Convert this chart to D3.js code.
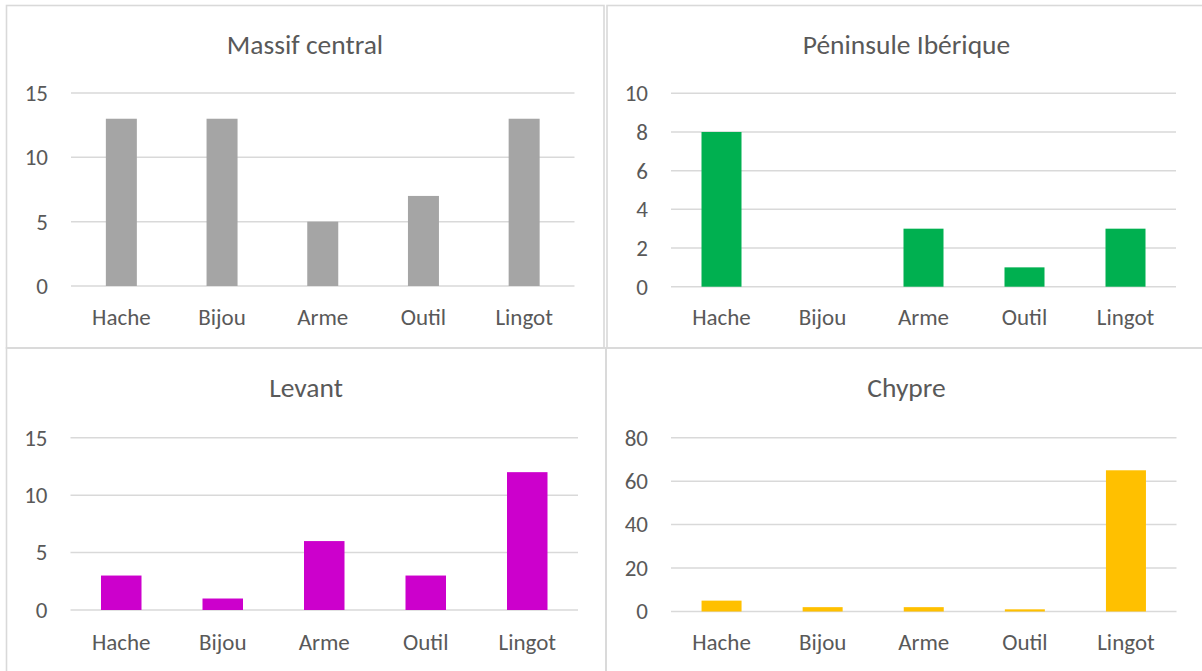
<!DOCTYPE html>
<html>
<head>
<meta charset="utf-8">
<script src="https://cdn.jsdelivr.net/npm/d3@7"></script>
<style>
  html, body { margin: 0; padding: 0; background: #ffffff; }
  svg { display: block; }
  text { font-family: Carlito, Calibri, Lato, "Noto Sans", sans-serif; fill: #595959; }
</style>
</head>
<body>
<svg id="chart" width="1202" height="671"></svg>
<script>
// ---- data ----
const categories = ["Hache", "Bijou", "Arme", "Outil", "Lingot"];
const titles = ["Massif central", "Péninsule Ibérique", "Levant", "Chypre"];
const massifCentral = [13, 13, 5, 7, 13];
const peninsuleIberique = [8, 0, 3, 1, 3];
const levant = [3, 1, 6, 3, 12];
const chypre = [5, 2, 2, 1, 65];
const ticksMassif = [0, 5, 10, 15];
const ticksPeninsule = [0, 2, 4, 6, 8, 10];
const ticksLevant = [0, 5, 10, 15];
const ticksChypre = [0, 20, 40, 60, 80];
const colors = ["#A5A5A5", "#00B050", "#CC00CC", "#FFC000"];

const seriesList = [massifCentral, peninsuleIberique, levant, chypre];
const tickList = [ticksMassif, ticksPeninsule, ticksLevant, ticksChypre];

// ---- layout (positions only) ----
const layout = [
  { bx0: 6.5, by0: 5.5, bx1: 604, by1: 348, px0: 71, px1: 574.5, pyTop: 93, pyBot: 286, bw: 31, titleX: 305, titleY: 54, catY: 325 },
  { bx0: 607, by0: 5.5, bx1: 1210, by1: 348, px0: 671, px1: 1176, pyTop: 93.3, pyBot: 286.7, bw: 40, titleX: 906.5, titleY: 54, catY: 325 },
  { bx0: 6.5, by0: 348, bx1: 606, by1: 680, px0: 70.5, px1: 578, pyTop: 437.7, pyBot: 610, bw: 40.5, titleX: 306, titleY: 397, catY: 650 },
  { bx0: 606, by0: 348, bx1: 1210, by1: 680, px0: 671, px1: 1176.5, pyTop: 437.7, pyBot: 611.5, bw: 40, titleX: 906.5, titleY: 397, catY: 650 }
];

const FONT = "Carlito, Calibri, Lato, 'Noto Sans', sans-serif";
const svg = d3.select("#chart");

layout.forEach((L, i) => {
  const g = svg.append("g");
  // panel border
  g.append("rect")
    .attr("x", L.bx0).attr("y", L.by0)
    .attr("width", L.bx1 - L.bx0).attr("height", L.by1 - L.by0)
    .attr("fill", "none").attr("stroke", "#D9D9D9").attr("stroke-width", 1.6);

  const ticks = tickList[i];
  const y = d3.scaleLinear()
    .domain([0, d3.max(ticks)])
    .range([L.pyBot, L.pyTop]);
  const step = (L.px1 - L.px0) / categories.length;
  const p = 1 - L.bw / step;
  const x = d3.scaleBand()
    .domain(categories)
    .range([L.px0, L.px1])
    .paddingInner(p)
    .paddingOuter(p / 2);

  // gridlines
  g.append("g").selectAll("line").data(ticks).join("line")
    .attr("x1", L.px0).attr("x2", L.px1)
    .attr("y1", d => y(d)).attr("y2", d => y(d))
    .attr("stroke", "#D9D9D9").attr("stroke-width", 1.5);

  // y axis labels via d3 axis
  const yAxis = d3.axisLeft(y).tickValues(ticks).tickSize(0).tickPadding(0).tickFormat(d3.format("d"));
  const ya = g.append("g").attr("transform", `translate(${L.px0 - 23},0)`).call(yAxis);
  ya.select(".domain").remove();
  ya.selectAll("text").attr("font-size", 23).attr("fill", "#595959").style("font-family", FONT);

  // bars
  const data = categories.map((c, k) => ({ c, v: seriesList[i][k] }));
  g.append("g").selectAll("rect").data(data).join("rect")
    .attr("x", d => x(d.c))
    .attr("width", x.bandwidth())
    .attr("y", d => y(d.v))
    .attr("height", d => y(0) - y(d.v))
    .attr("fill", colors[i]);

  // x axis labels
  const xAxis = d3.axisBottom(x).tickSize(0).tickPadding(0);
  const xa = g.append("g").attr("transform", `translate(0,${L.catY})`).call(xAxis);
  xa.select(".domain").remove();
  xa.selectAll("text").attr("dy", 0).attr("y", 0).attr("font-size", 23).attr("fill", "#595959").style("font-family", FONT);

  // title
  g.append("text")
    .attr("x", L.titleX)
    .attr("y", L.titleY)
    .attr("text-anchor", "middle")
    .attr("font-size", 27.5)
    .text(titles[i]);
});
</script>
</body>
</html>
